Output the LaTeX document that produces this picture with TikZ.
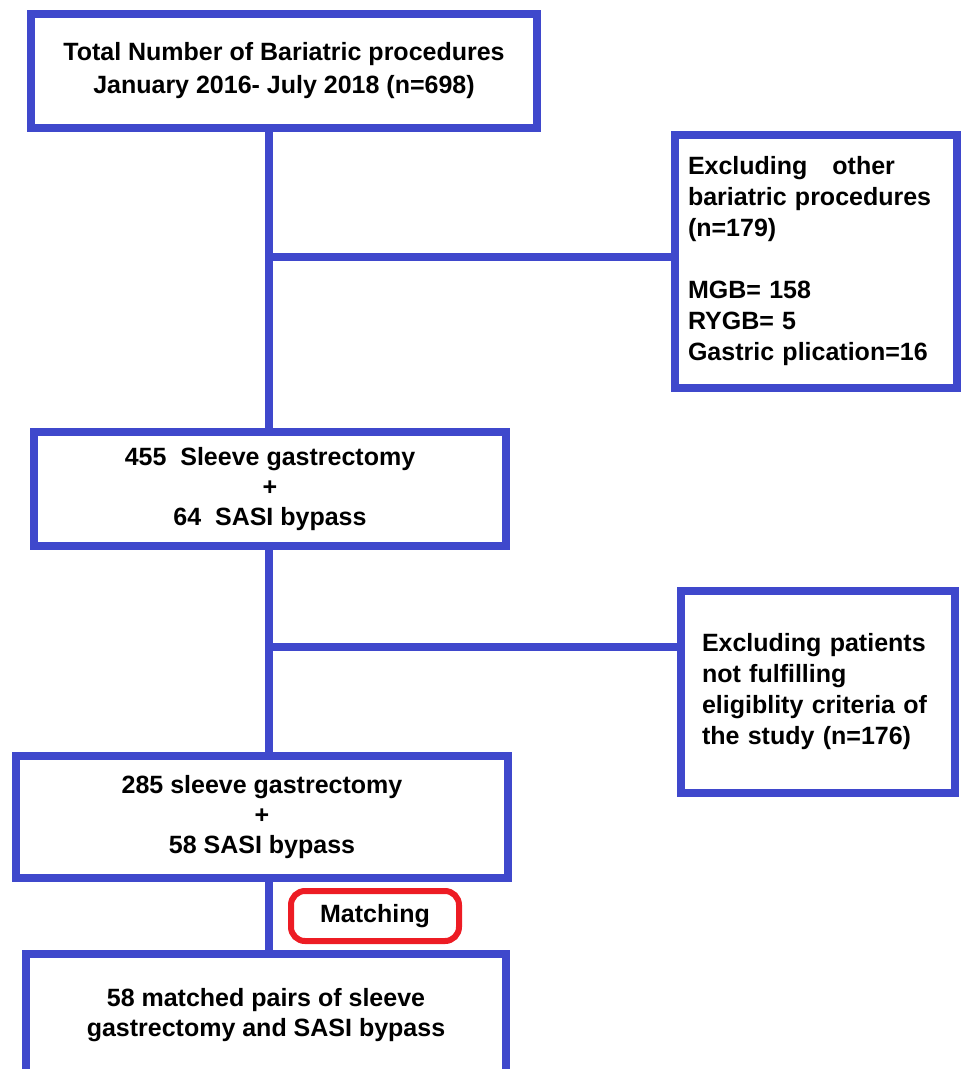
\documentclass[tikz,border=0pt]{standalone}
\usepackage{fontspec}
\setmainfont{Liberation Sans}

\definecolor{paintblue}{RGB}{63,72,204}
\definecolor{paintred}{RGB}{237,28,36}

\begin{document}
\begin{tikzpicture}[
    x=1pt,
    y=-1pt,
    box/.style={
        draw=paintblue,
        line width=8pt,
        inner sep=0pt,
        align=center,
        font=\bfseries\fontsize{25}{30}\selectfont
    },
    sidebox/.style={
        box,
        align=left,
        font=\bfseries\fontsize{25}{31}\selectfont
    },
    matchbox/.style={
        draw=paintred,
        line width=6pt,
        rounded corners=14pt,
        inner sep=0pt,
        font=\bfseries\fontsize{25}{30}\selectfont
    },
    link/.style={
        draw=paintblue,
        line width=8pt
    }
]

% -------------------------------------------------
% Picture size
% -------------------------------------------------

\useasboundingbox (0,0) rectangle (964,1069);
\clip (0,0) rectangle (964,1069);

\def\stemx{269}   % x of the vertical trunk

% -------------------------------------------------
% Main column
% -------------------------------------------------

\node[box, minimum width=506, minimum height=114,
      font=\bfseries\fontsize{25}{33}\selectfont]
    (total) at (284,71)
    {Total Number of Bariatric procedures\\
     January 2016- July 2018 (n=698)};

\node[box, minimum width=472, minimum height=114]
    (sgsasi) at (270,489)
    {455\ \ Sleeve gastrectomy\\+\\64\ \ SASI bypass};

\node[box, minimum width=492, minimum height=122]
    (eligible) at (262,817)
    {285 sleeve gastrectomy\\+\\58 SASI bypass};

\node[box, minimum width=480, minimum height=122]
    (pairs) at (266,1015)
    {58 matched pairs of sleeve\\gastrectomy and SASI bypass};

% -------------------------------------------------
% Exclusion boxes
% -------------------------------------------------

\node[sidebox, minimum width=282, minimum height=253, text width=256]
    (otherproc) at (816,261)
    {Excluding\ \ \ other\\
     bariatric procedures\\
     (n=179)\\[31pt]
     MGB= 158\\
     RYGB= 5\\
     Gastric plication=16};

\node[sidebox, minimum width=274, minimum height=202, text width=232]
    (criteria) at (818,692)
    {Excluding patients\\
     not fulfilling\\
     eligiblity criteria of\\
     the study (n=176)};

% -------------------------------------------------
% Trunk and branches
% -------------------------------------------------

\coordinate (branchA) at (\stemx,257);
\coordinate (branchB) at (\stemx,647);

\draw[link] (\stemx,0 |- total.south) -- (\stemx,0 |- sgsasi.north);
\draw[link] (branchA) -- (branchA -| otherproc.west);

\draw[link] (\stemx,0 |- sgsasi.south) -- (\stemx,0 |- eligible.north);
\draw[link] (branchB) -- (branchB -| criteria.west);

\draw[link] (\stemx,0 |- eligible.south) -- (\stemx,0 |- pairs.north);

% Matching label
\node[matchbox, minimum width=168, minimum height=50]
    (matching) at (375,916) {Matching};

\end{tikzpicture}
\end{document}
